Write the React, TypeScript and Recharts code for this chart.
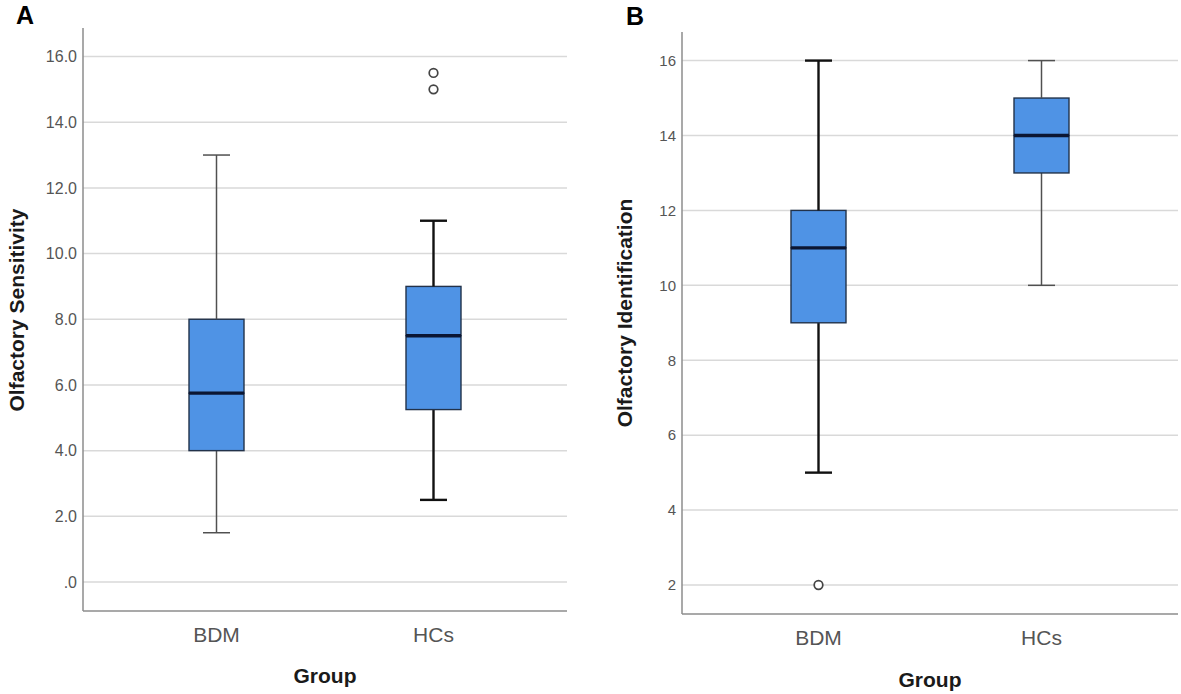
import React from 'react';
import { ComposedChart, Bar, Scatter, XAxis, YAxis, CartesianGrid } from 'recharts';

const groups = ['BDM', 'HCs'];

// Panel A – Olfactory Sensitivity
const sensMin = [1.5, 2.5];
const sensQ1 = [4.0, 5.25];
const sensMedian = [5.75, 7.5];
const sensQ3 = [8.0, 9.0];
const sensMax = [13.0, 11.0];
const sensOutlierGroups = ['HCs', 'HCs'];
const sensOutlierValues = [15.5, 15.0];
const sensTicks = [0, 2, 4, 6, 8, 10, 12, 14, 16];

// Panel B – Olfactory Identification
const identMin = [5, 10];
const identQ1 = [9, 13];
const identMedian = [11, 14];
const identQ3 = [12, 15];
const identMax = [16, 16];
const identOutlierGroups = ['BDM'];
const identOutlierValues = [2];
const identTicks = [2, 4, 6, 8, 10, 12, 14, 16];

const FONT = '"Liberation Sans", Arial, Helvetica, sans-serif';
const BOX_FILL = '#4f93e5';
const BOX_STROKE = '#22324a';
const MEDIAN = '#0b1633';
const CAP = 27;

const thin = { color: '#505050', width: 1.5 };
const thick = { color: '#111111', width: 2.4 };
const sensWhiskerStyle: Record<string, { color: string; width: number }> = { BDM: thin, HCs: thick };
const identWhiskerStyle: Record<string, { color: string; width: number }> = { BDM: thick, HCs: thin };

function buildRows(mins: number[], q1s: number[], meds: number[], q3s: number[], maxs: number[]) {
  return groups.map((g, i) => ({
    group: g,
    base: mins[i],
    lowWhisker: q1s[i] - mins[i],
    boxLow: meds[i] - q1s[i],
    boxHigh: q3s[i] - meds[i],
    highWhisker: maxs[i] - q3s[i],
  }));
}

function buildOutliers(gs: string[], vs: number[]) {
  return gs.map((g, i) => ({ group: g, value: vs[i] }));
}

const sensRows = buildRows(sensMin, sensQ1, sensMedian, sensQ3, sensMax);
const identRows = buildRows(identMin, identQ1, identMedian, identQ3, identMax);
const sensOutliers = buildOutliers(sensOutlierGroups, sensOutlierValues);
const identOutliers = buildOutliers(identOutlierGroups, identOutlierValues);

const EmptyShape = () => <g />;

const makeWhisker = (styles: Record<string, { color: string; width: number }>, end: 'low' | 'high') =>
  (props: any) => {
    const { x, y, width, height, payload } = props;
    const s = styles[payload?.group] || thin;
    const cx = x + width / 2;
    const capY = end === 'low' ? y + height : y;
    return (
      <g>
        <line x1={cx} x2={cx} y1={y} y2={y + height} stroke={s.color} strokeWidth={s.width} />
        <line x1={cx - CAP / 2} x2={cx + CAP / 2} y1={capY} y2={capY} stroke={s.color} strokeWidth={s.width} />
      </g>
    );
  };

const BoxLowShape = (props: any) => {
  const { x, y, width, height } = props;
  return <rect x={x} y={y} width={width} height={height} fill={BOX_FILL} stroke={BOX_STROKE} strokeWidth={1.4} />;
};

const BoxHighShape = (props: any) => {
  const { x, y, width, height } = props;
  return (
    <g>
      <rect x={x} y={y} width={width} height={height} fill={BOX_FILL} stroke={BOX_STROKE} strokeWidth={1.4} />
      <line x1={x} x2={x + width} y1={y + height} y2={y + height} stroke={MEDIAN} strokeWidth={3.4} />
    </g>
  );
};

const OutlierShape = (props: any) => {
  const { cx, cy } = props;
  return <circle cx={cx} cy={cy} r={4.3} fill="#ffffff" stroke="#444444" strokeWidth={1.7} />;
};

const axisLine = { stroke: '#8c8c8c', strokeWidth: 1.5 };

function BoxPanel(props: {
  rows: any[];
  outliers: any[];
  ticks: number[];
  domain: [number, number];
  fmt: (v: number) => string;
  whiskers: Record<string, { color: string; width: number }>;
  width: number;
  margin: { top: number; right: number; bottom: number; left: number };
  yTitle: string;
  yTitleX: number;
  yTitleY: number;
  xTitleX: number;
  xTitleY: number;
  yTickSize: number;
}) {
  const { rows, outliers, ticks, domain, fmt, whiskers, width, margin, yTitle, yTitleX, yTitleY, xTitleX, xTitleY, yTickSize } = props;
  return (
    <ComposedChart width={width} height={694} data={rows} margin={margin} style={{ fontFamily: FONT }}>
      <CartesianGrid vertical={false} horizontalValues={ticks} stroke="#d9d9d9" strokeWidth={1.5} />
      <XAxis
        dataKey="group"
        type="category"
        allowDuplicatedCategory={false}
        padding={{ left: 25, right: 25 }}
        height={60}
        tickLine={false}
        tickSize={0}
        tickMargin={16}
        axisLine={axisLine}
        tick={{ fill: '#555555', fontSize: 21, fontFamily: FONT }}
        label={() => (
          <text x={xTitleX} y={xTitleY} textAnchor="middle" fontSize={21} fontWeight={700} fill="#1a1a1a" fontFamily={FONT}>
            Group
          </text>
        )}
      />
      <YAxis
        type="number"
        domain={domain}
        allowDataOverflow
        ticks={ticks}
        interval={0}
        tickFormatter={fmt}
        width={60}
        tickLine={false}
        tickSize={0}
        tickMargin={6}
        axisLine={axisLine}
        tick={{ fill: '#555555', fontSize: yTickSize, fontFamily: FONT }}
        label={() => (
          <text
            x={yTitleX}
            y={yTitleY}
            transform={`rotate(-90 ${yTitleX} ${yTitleY})`}
            textAnchor="middle"
            fontSize={21}
            fontWeight={700}
            fill="#1a1a1a"
            fontFamily={FONT}
          >
            {yTitle}
          </text>
        )}
      />
      <Bar dataKey="base" stackId="s" barSize={55} shape={EmptyShape} isAnimationActive={false} />
      <Bar dataKey="lowWhisker" stackId="s" barSize={55} shape={makeWhisker(whiskers, 'low')} isAnimationActive={false} />
      <Bar dataKey="boxLow" stackId="s" barSize={55} shape={BoxLowShape} isAnimationActive={false} />
      <Bar dataKey="boxHigh" stackId="s" barSize={55} shape={BoxHighShape} isAnimationActive={false} />
      <Bar dataKey="highWhisker" stackId="s" barSize={55} shape={makeWhisker(whiskers, 'high')} isAnimationActive={false} />
      <Scatter data={outliers} dataKey="value" shape={OutlierShape} isAnimationActive={false} />
    </ComposedChart>
  );
}

const fmtA = (v: number) => (v === 0 ? '.0' : v.toFixed(1));
const fmtB = (v: number) => String(v);

export default function App() {
  return (
    <div style={{ position: 'absolute', left: 0, top: 0, width: 1181, height: 694, background: '#ffffff', fontFamily: FONT }}>
      <div style={{ position: 'absolute', left: 0, top: 0 }}>
        <BoxPanel
          rows={sensRows}
          outliers={sensOutliers}
          ticks={sensTicks}
          domain={[-0.883, 16.868]}
          fmt={fmtA}
          whiskers={sensWhiskerStyle}
          width={580}
          margin={{ top: 28, right: 13, bottom: 23, left: 23 }}
          yTitle="Olfactory Sensitivity"
          yTitleX={24}
          yTitleY={310}
          xTitleX={325}
          xTitleY={683}
          yTickSize={16}
        />
      </div>
      <div style={{ position: 'absolute', left: 590, top: 0 }}>
        <BoxPanel
          rows={identRows}
          outliers={identOutliers}
          ticks={identTicks}
          domain={[1.226, 16.763]}
          fmt={fmtB}
          whiskers={identWhiskerStyle}
          width={591}
          margin={{ top: 32, right: 3, bottom: 20, left: 32 }}
          yTitle="Olfactory Identification"
          yTitleX={42}
          yTitleY={313}
          xTitleX={340}
          xTitleY={687}
          yTickSize={15}
        />
      </div>
      <div style={{ position: 'absolute', left: 16, top: 3, fontSize: 25, fontWeight: 700, lineHeight: 1, color: '#000' }}>A</div>
      <div style={{ position: 'absolute', left: 626, top: 4, fontSize: 25, fontWeight: 700, lineHeight: 1, color: '#000' }}>B</div>
    </div>
  );
}
